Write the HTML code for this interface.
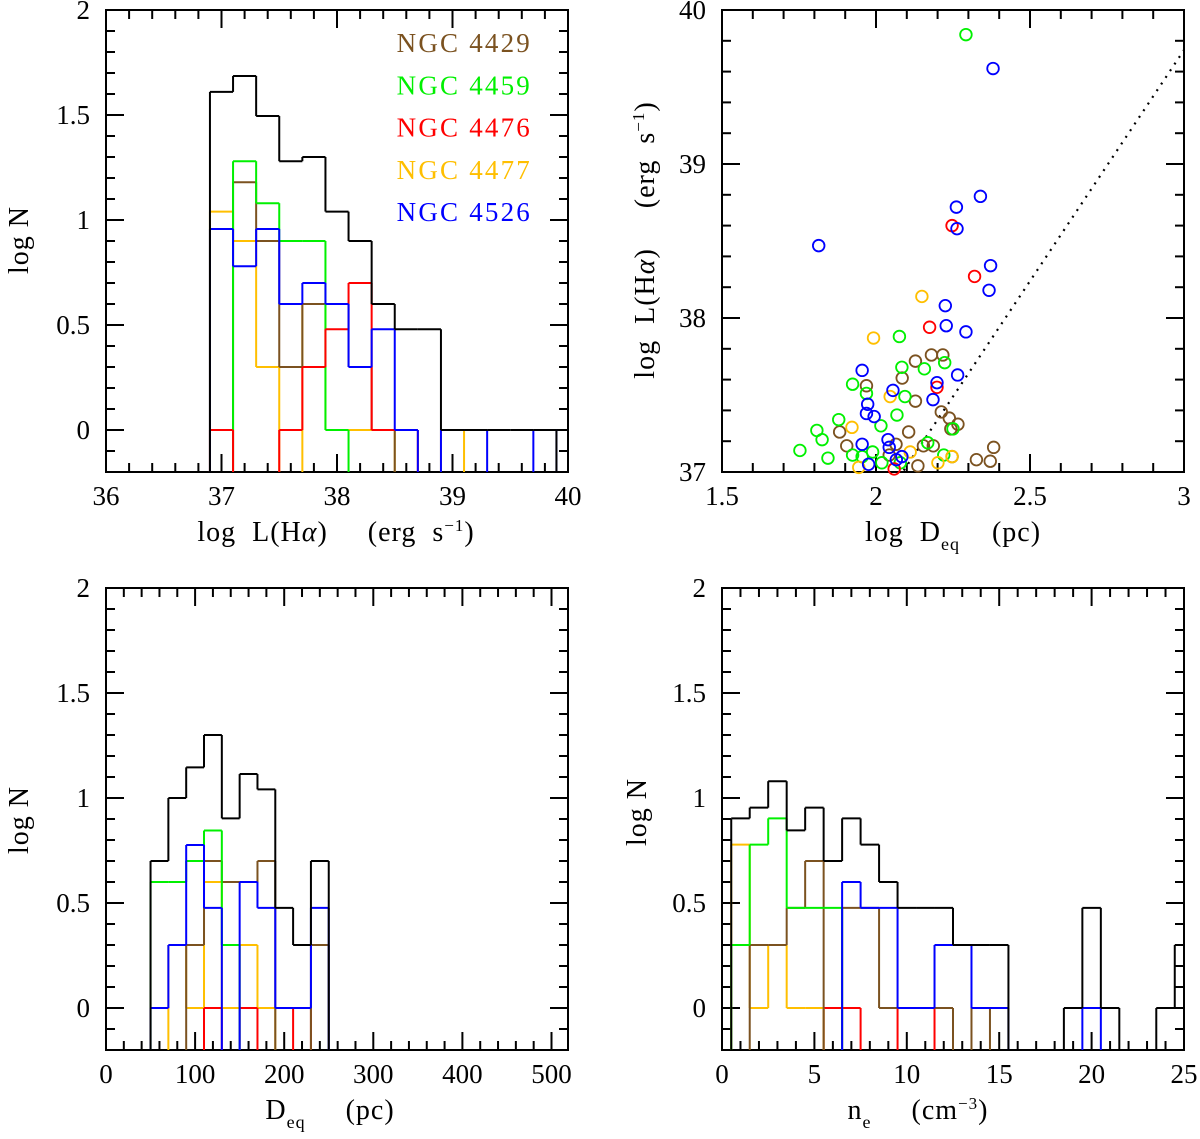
<!DOCTYPE html>
<html><head><meta charset="utf-8"><style>
body{margin:0;background:#fff;}
svg{display:block;font-family:"Liberation Serif",serif;}
text{white-space:pre;}
</style></head><body>
<svg id="fig" width="1200" height="1139" viewBox="0 0 1200 1139" xmlns="http://www.w3.org/2000/svg"></svg>
<script>
// ---- Panel 1 data: log L(Halpha) histogram ----
const lumStart = 36.9, lumWidth = 0.2;
const lumBlack  = [1.61,1.686,1.495,1.28,1.30,1.04,0.90,0.60,0.48,0.48,0,0,0,0,0];
const lumGreen  = [null,1.28,1.08,0.90,0.90,0];
const lumBrown  = [null,1.18,0.90,0.30,0.60,0.60,0.30,0];
const lumOrange = [1.04,0.90,0.30,null,0.60,0,0,0,null,null,0];
const lumRed    = [0,null,null,0,0.30,0.48,0.70,0,0];
const lumBlue   = [0.957,0.78,0.957,0.60,0.70,0.60,0.30,0.48,0,null,0,0,null,null,0];
// ---- Panel 2 data: scatter log D vs log L ----
const scBrownX = [1.969,2.085,2.128,2.180,2.217,2.128,2.212,2.238,2.266,2.243,1.882,2.106,1.905,2.065,2.154,2.186,2.382,2.043,2.247,2.326,2.371,2.136];
const scBrownY = [37.56,37.61,37.72,37.76,37.76,37.46,37.39,37.35,37.31,37.28,37.26,37.26,37.17,37.18,37.17,37.17,37.16,37.11,37.10,37.08,37.07,37.04];
const scGreenX = [2.292,2.076,2.223,2.084,2.157,1.924,1.969,2.094,2.068,1.879,2.016,2.25,1.808,1.825,2.168,1.753,1.989,1.924,1.955,1.844,2.220,2.019,2.079];
const scGreenY = [39.84,37.88,37.71,37.68,37.67,37.57,37.51,37.49,37.37,37.34,37.30,37.28,37.27,37.21,37.19,37.14,37.13,37.11,37.10,37.09,37.11,37.06,37.06];
const scRedX = [2.247,2.320,2.174,2.198,2.059];
const scRedY = [38.60,38.27,37.94,37.55,37.02];
const scOrangeX = [2.149,1.992,2.046,1.922,2.111,2.201,1.944,2.247];
const scOrangeY = [38.14,37.87,37.49,37.29,37.13,37.06,37.03,37.10];
const scBlueX = [2.380,1.814,2.261,2.263,2.339,2.372,2.367,2.225,2.228,2.292,1.955,2.265,2.198,2.055,2.185,1.973,1.969,1.994,2.039,1.955,2.043,2.084,2.066,1.976];
const scBlueY = [39.62,38.47,38.72,38.58,38.79,38.34,38.18,38.08,37.95,37.91,37.66,37.63,37.58,37.53,37.47,37.44,37.38,37.36,37.21,37.18,37.16,37.10,37.08,37.05];
const lineX = [2.09,3.0];
const lineSlope = 3.0, lineIntercept = 30.74;
// ---- Panel 3 data: D_eq histogram ----
const dStart = 50, dWidth = 20;
const dBlack  = [0.70,1.0,1.146,1.30,0.903,1.114,1.041,0.477,0.30,0.70];
const dGreen  = [0.60,0.60,0.70,0.845,0.30];
const dBrown  = [null,null,0.30,0.70,0.60,0.60,0.70,null,null,0.30];
const dOrange = [null,0.30,0,0.60,0,0.30,0];
const dRed    = [null,null,null,0,null,0,null,null,0];
const dBlue   = [0,0.30,0.776,0.477,null,0.60,0.477,0,0,0.477];
// ---- Panel 4 data: n_e histogram ----
const nStart = 0.5, nWidth = 1;
const nBlack  = [0.903,0.954,1.08,0.846,0.954,0.70,0.903,0.778,0.60,0.477,0.477,0.477,0.30,0.30,0.30,null,null,null,0,0.477,0,null,null,0,0.30];
const nGreen  = [0.30,0.778,0.903,0.477,0.477,0.477];
const nOrange = [0.778,0,0.30,0,0];
const nBrown  = [null,0.30,0.30,0.477,0.70,null,0.477,0.477,0,0,0,0,null,0];
const nRed    = [null,null,null,null,null,0,0,null,null,0,0];
const nBlue   = [null,null,null,null,null,null,0.60,0.477,0.477,0,0,0.30,0.30,0,0,null,null,null,null,0];
// legend
const legendNames = ["NGC 4429","NGC 4459","NGC 4476","NGC 4477","NGC 4526"];

const COL = {brown:"#7b5220", green:"#00f000", red:"#ff0000", orange:"#ffbf00", blue:"#0000ff", black:"#000"};
const svg = document.getElementById('fig');
const NS = "http://www.w3.org/2000/svg";
function mk(tag, attrs, parent){const e=document.createElementNS(NS,tag);for(const k in attrs)e.setAttribute(k,attrs[k]);(parent||svg).appendChild(e);return e;}

function panel(name, L,R,T,B, sx, sy, xt, yt){
  const g = mk('g',{});
  
  
  const tg = mk('g',{stroke:'#000','stroke-width':2},g);
  
  
  for(let v=xt.min; v<=xt.max+1e-9; v+=xt.minor){
    const x=sx(v); if(x<L-0.5||x>R+0.5) continue;
    const major = Math.abs(v/xt.major - Math.round(v/xt.major))<1e-6;
    const len = major?18:9;
    mk('line',{x1:x,x2:x,y1:B,y2:B-len},tg); mk('line',{x1:x,x2:x,y1:T,y2:T+len},tg);
  }
  for(let v=yt.min; v<=yt.max+1e-9; v+=yt.minor){
    const y=sy(v); if(y<T-0.5||y>B+0.5) continue;
    const major = Math.abs(v/yt.major - Math.round(v/yt.major))<1e-6;
    const len = major?18:9;
    mk('line',{x1:L,x2:L+len,y1:y,y2:y},tg); mk('line',{x1:R,x2:R-len,y1:y,y2:y},tg);
  }
  for(const v of xt.labels){
    const t=mk('text',{x:sx(v),y:B+33,'font-size':27,'text-anchor':'middle'},g); t.textContent=String(v);
    
    
  }
  for(const v of yt.labels){
    const t=mk('text',{x:L-16,y:sy(v)+9,'font-size':27,'text-anchor':'end'},g); t.textContent=String(v);
    
    
  }
  const fr = mk('rect',{x:L,y:T,width:R-L,height:B-T,fill:'none',stroke:'#000','stroke-width':2},g);
  
  
  return g;
}

function hist(g, name, start, width, vals, color, sx, sy, B){
  const hg = mk('g',{stroke:color,'stroke-width':2,fill:'none'},g);
  
  
  const yv = v => v===null||v===undefined ? B : sy(v);
  for(let i=0;i<=vals.length;i++){
    const a = i>0?vals[i-1]:null, b = i<vals.length?vals[i]:null;
    const x = sx(start+i*width);
    if((a===null||a===undefined)&&(b===null||b===undefined)) continue;
    mk('line',{x1:x,x2:x,y1:yv(a),y2:yv(b)},hg);
  }
  vals.forEach((v,i)=>{
    if(v===null||v===undefined) return;
    const bar = mk('line',{x1:sx(start+i*width),x2:sx(start+(i+1)*width),y1:sy(v),y2:sy(v)},hg);
    
    
  });
}

function rotLabel(x,y,txt,name){
  const t=mk('text',{x:x,y:y,'font-size':28,'text-anchor':'middle',transform:`rotate(-90 ${x} ${y})`,'letter-spacing':1});
  t.innerHTML=txt;
  
  
}
function xLabel(x,y,txt,name){
  const t=mk('text',{x:x,y:y,'font-size':28,'text-anchor':'middle','letter-spacing':1});
  t.innerHTML=txt;
  
  
}

// ---------- Panel 1 ----------
{
  const L=106,R=568,T=10,B=472;
  const sx=v=>106+(v-36)*115.5, sy=v=>430-210*v;
  const g=panel('luminosity-histogram',L,R,T,B,sx,sy,
    {min:36,max:40,major:1,minor:0.2,labels:[36,37,38,39,40]},
    {min:-0.2,max:2,major:0.5,minor:0.1,labels:[0,0.5,1,1.5,2]});
  hist(g,'hist-ngc4477',lumStart,lumWidth,lumOrange,COL.orange,sx,sy,B);
  hist(g,'hist-ngc4429',lumStart,lumWidth,lumBrown,COL.brown,sx,sy,B);
  hist(g,'hist-ngc4459',lumStart,lumWidth,lumGreen,COL.green,sx,sy,B);
  hist(g,'hist-ngc4476',lumStart,lumWidth,lumRed,COL.red,sx,sy,B);
  hist(g,'hist-ngc4526',lumStart,lumWidth,lumBlue,COL.blue,sx,sy,B);
  hist(g,'hist-total',lumStart,lumWidth,lumBlack,COL.black,sx,sy,B);
  const cols=[COL.brown,COL.green,COL.red,COL.orange,COL.blue];
  legendNames.forEach((n,i)=>{
    const t=mk('text',{x:532,y:52+i*42.3,'font-size':27,'text-anchor':'end',fill:cols[i],'letter-spacing':2.2},g);
    t.textContent=n;
    
    
  });
  rotLabel(28,240,'log N','y-axis-title-1');
  xLabel(336,541,'log  L(H<tspan font-style="italic">α</tspan>)     (erg  s<tspan font-size="17" dy="-10">−1</tspan><tspan dy="10">)</tspan>','x-axis-title-1');
}
// ---------- Panel 2 ----------
{
  const L=722,R=1184,T=10,B=472;
  const sx=v=>722+(v-1.5)*308, sy=v=>472-(v-37)*154;
  const g=panel('size-luminosity-scatter',L,R,T,B,sx,sy,
    {min:1.5,max:3,major:0.5,minor:0.1,labels:[1.5,2,2.5,3]},
    {min:37,max:40,major:1,minor:0.2,labels:[37,38,39,40]});
  const y1 = lineSlope*lineX[0]+lineIntercept, y2 = lineSlope*lineX[1]+lineIntercept;
  const ln=mk('line',{x1:sx(lineX[0]),y1:sy(y1),x2:sx(lineX[1]),y2:sy(y2),stroke:'#000','stroke-width':2.2,'stroke-dasharray':'2 6'},g);
  
  
  const sets=[[scBrownX,scBrownY,COL.brown,'ngc4429'],[scGreenX,scGreenY,COL.green,'ngc4459'],[scOrangeX,scOrangeY,COL.orange,'ngc4477'],[scRedX,scRedY,COL.red,'ngc4476'],[scBlueX,scBlueY,COL.blue,'ngc4526']];
  const cg=mk('g',{},g);
  
  
  sets.forEach(([xs,ys,c,n])=>{
    xs.forEach((xv,i)=>{
      const cy=sy(ys[i]); if(cy>B+2) return;
      const p=mk('circle',{cx:sx(xv),cy:cy,r:5.8,fill:'none',stroke:c,'stroke-width':1.8},cg);
      
      
    });
  });
  rotLabel(654,240,'log  L(H<tspan font-style="italic">α</tspan>)     (erg  s<tspan font-size="17" dy="-10">−1</tspan><tspan dy="10">)</tspan>','y-axis-title-2');
  xLabel(953,541,'log  D<tspan font-size="18" dy="9">eq</tspan><tspan dy="-9">    (pc)</tspan>','x-axis-title-2');
}
// ---------- Panel 3 ----------
{
  const L=106,R=568,T=588,B=1050;
  const sx=v=>106+v*0.891, sy=v=>1008-210*v;
  const g=panel('size-histogram',L,R,T,B,sx,sy,
    {min:0,max:520,major:100,minor:20,labels:[0,100,200,300,400,500]},
    {min:-0.2,max:2,major:0.5,minor:0.1,labels:[0,0.5,1,1.5,2]});
  hist(g,'hist-ngc4477',dStart,dWidth,dOrange,COL.orange,sx,sy,B);
  hist(g,'hist-ngc4476',dStart,dWidth,dRed,COL.red,sx,sy,B);
  hist(g,'hist-ngc4429',dStart,dWidth,dBrown,COL.brown,sx,sy,B);
  hist(g,'hist-ngc4459',dStart,dWidth,dGreen,COL.green,sx,sy,B);
  hist(g,'hist-ngc4526',dStart,dWidth,dBlue,COL.blue,sx,sy,B);
  hist(g,'hist-total',dStart,dWidth,dBlack,COL.black,sx,sy,B);
  rotLabel(28,820,'log N','y-axis-title-3');
  xLabel(330,1119,'D<tspan font-size="18" dy="9">eq</tspan><tspan dy="-9">     (pc)</tspan>','x-axis-title-3');
}
// ---------- Panel 4 ----------
{
  const L=722,R=1184,T=588,B=1050;
  const sx=v=>722+v*18.48, sy=v=>1008-210*v;
  const g=panel('density-histogram',L,R,T,B,sx,sy,
    {min:0,max:25,major:5,minor:1,labels:[0,5,10,15,20,25]},
    {min:-0.2,max:2,major:0.5,minor:0.1,labels:[0,0.5,1,1.5,2]});
  const clip=mk('clipPath',{id:'c4'});
  mk('rect',{x:L,y:T,width:R-L,height:B-T},clip);
  const hg=mk('g',{'clip-path':'url(#c4)'},g);
  
  
  hist(hg,'hist-ngc4476',nStart,nWidth,nRed,COL.red,sx,sy,B);
  hist(hg,'hist-ngc4477',nStart,nWidth,nOrange,COL.orange,sx,sy,B);
  hist(hg,'hist-ngc4429',nStart,nWidth,nBrown,COL.brown,sx,sy,B);
  hist(hg,'hist-ngc4459',nStart,nWidth,nGreen,COL.green,sx,sy,B);
  hist(hg,'hist-ngc4526',nStart,nWidth,nBlue,COL.blue,sx,sy,B);
  hist(hg,'hist-total',nStart,nWidth,nBlack,COL.black,sx,sy,B);
  rotLabel(646,812,'log N','y-axis-title-4');
  xLabel(918,1119,'n<tspan font-size="18" dy="9">e</tspan><tspan dy="-9">     (cm</tspan><tspan font-size="17" dy="-10">−3</tspan><tspan dy="10">)</tspan>','x-axis-title-4');
}
</script>
</body></html>
